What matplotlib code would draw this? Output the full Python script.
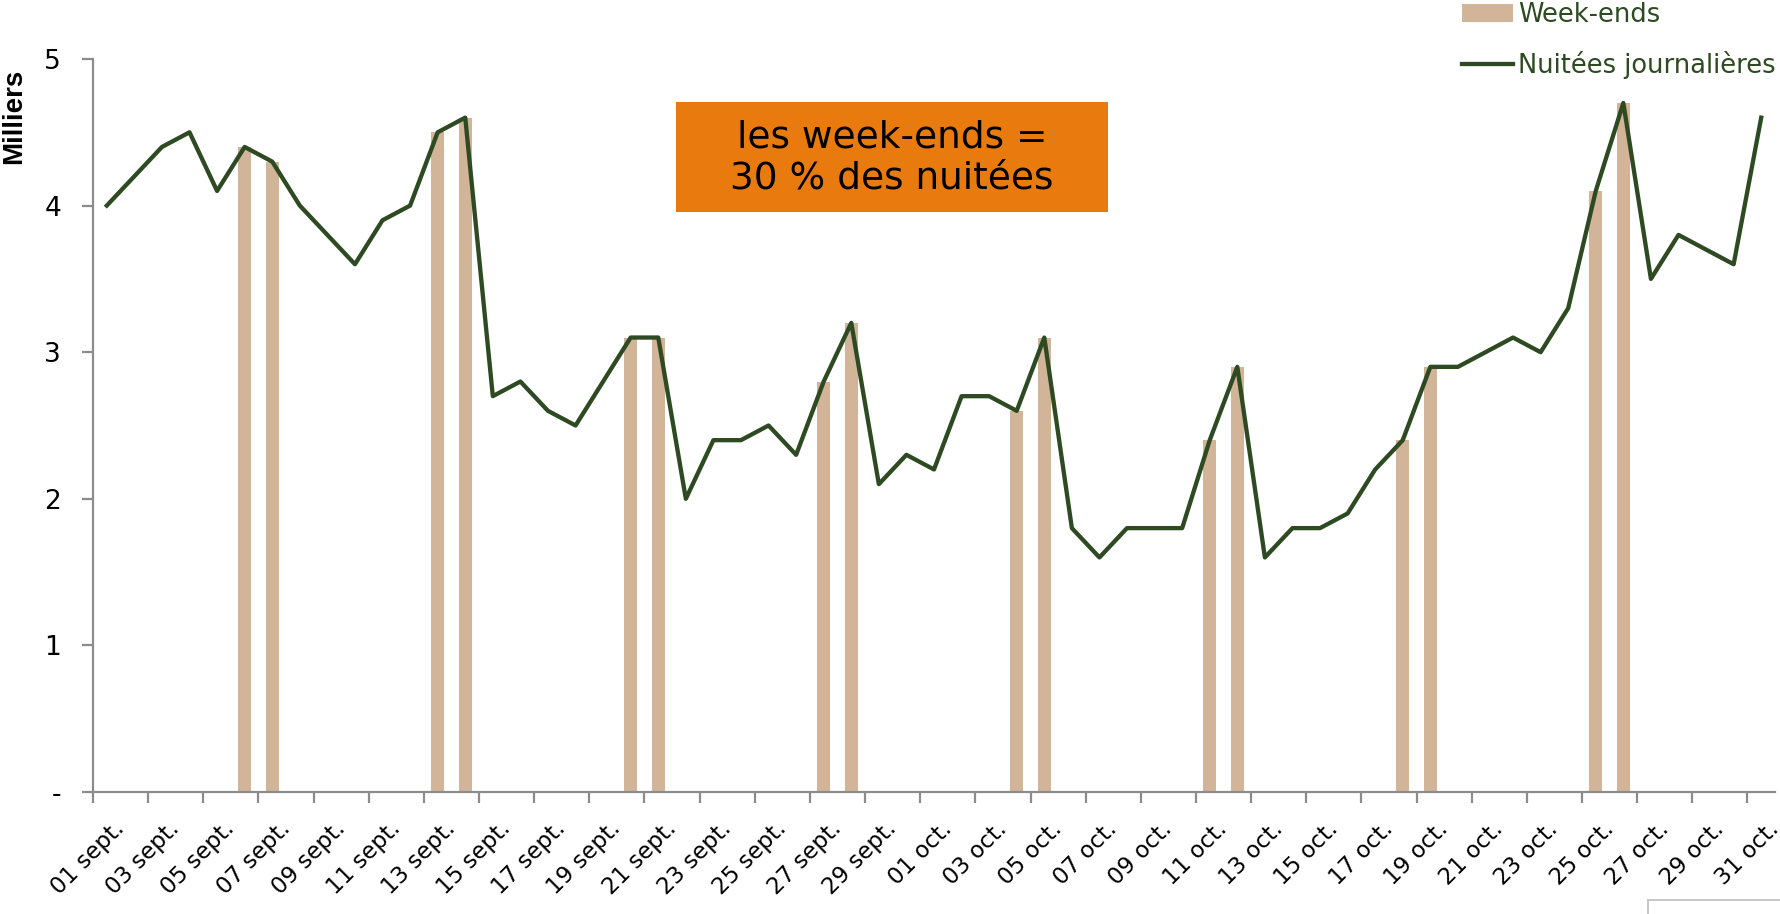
import numpy as np
import pandas as pd
import matplotlib
matplotlib.use('Agg')
import matplotlib.pyplot as plt
from matplotlib.patches import Rectangle
from matplotlib.lines import Line2D
from matplotlib.transforms import ScaledTranslation

plt.rcParams['font.family'] = ['DejaVu Sans']

# nuitées journalières (milliers), du 1er septembre au 31 octobre
jours = pd.date_range('2025-09-01', '2025-10-31', freq='D')
nuitees_sept = [4.0, 4.2, 4.4, 4.5, 4.1, 4.4, 4.3, 4.0, 3.8, 3.6,
                3.9, 4.0, 4.5, 4.6, 2.7, 2.8, 2.6, 2.5, 2.8, 3.1,
                3.1, 2.0, 2.4, 2.4, 2.5, 2.3, 2.8, 3.2, 2.1, 2.3]
nuitees_oct = [2.2, 2.7, 2.7, 2.6, 3.1, 1.8, 1.6, 1.8, 1.8, 1.8,
               2.4, 2.9, 1.6, 1.8, 1.8, 1.9, 2.2, 2.4, 2.9, 2.9,
               3.0, 3.1, 3.0, 3.3, 4.1, 4.7, 3.5, 3.8, 3.7, 3.6, 4.6]
mois_abr = {9: 'sept.', 10: 'oct.'}
y_ticks = [0, 1, 2, 3, 4, 5]
y_labels = ['-', '1', '2', '3', '4', '5']

nuitees = np.array(nuitees_sept + nuitees_oct)
x = np.arange(len(jours))
we = np.asarray(jours.dayofweek >= 5)
x_labels = [f"{d.day:02d} {mois_abr[d.month]}" for d in jours[::2]]

c_bar = '#D2B599'
c_line = '#2E4A23'
c_axe = '#8C8C8C'
W, H = 1780, 914

fig = plt.figure(figsize=(W / 100, H / 100), dpi=100)
ax = fig.add_axes([93 / W, 1 - 792 / H, (1775 - 93) / W, (792 - 59) / H])

barres = ax.bar(x[we], nuitees[we], width=0.47, color=c_bar, label='Week-ends', zorder=2)
ligne, = ax.plot(x, nuitees, color=c_line, lw=3.1, label='Nuitées journalières', zorder=3)

ax.set_xlim(-0.5, len(jours) - 0.5)
ax.set_ylim(0, 5)
ax.set_yticks(y_ticks)
ax.set_yticklabels(y_labels)
ax.set_xticks(x[::2])
ax.set_xticklabels(x_labels, rotation=45, ha='right', va='top', rotation_mode='anchor')
ax.set_xticks(np.arange(-0.5, len(jours) - 1, 2), minor=True)

for s in ['top', 'right']:
    ax.spines[s].set_visible(False)
for s in ['left', 'bottom']:
    ax.spines[s].set_color(c_axe)
    ax.spines[s].set_linewidth(1.6)

ax.tick_params(axis='x', which='major', length=0, pad=18, labelsize=16.5)
ax.tick_params(axis='x', which='minor', length=8, width=1.6, color=c_axe)
ax.tick_params(axis='y', length=8, width=1.6, color=c_axe, pad=15, labelsize=19)

decal = ScaledTranslation(6 / 100, 0, fig.dpi_scale_trans)
for lab in ax.get_xticklabels():
    lab.set_transform(lab.get_transform() + decal)

fig.text(14 / W, 1 - 116 / H, 'Milliers', rotation=90, ha='center', va='center',
         fontsize=20, fontweight='bold', family=['Liberation Sans', 'DejaVu Sans'])

# encadré orange
fig.add_artist(Rectangle((676 / W, 1 - 212 / H), (1108 - 676) / W, (212 - 102) / H,
                         transform=fig.transFigure, facecolor='#E97B0E', edgecolor='none'))
fig.text(892 / W, 1 - 158 / H, 'les week-ends =\n30 % des nuitées', ha='center', va='center',
         fontsize=27, linespacing=1.18, color='black')

leg = ax.legend([barres, ligne], ['Week-ends', 'Nuitées journalières'],
                loc='upper left', bbox_to_anchor=(1462 / W, 1 - 2 / H),
                bbox_transform=fig.transFigure, frameon=False, fontsize=18.5,
                handlelength=1.98, handleheight=0.66, handletextpad=0.2,
                labelspacing=0.9, borderpad=0, borderaxespad=0, labelcolor=c_line)

# petit cadre gris en bas à droite
fig.add_artist(Line2D([1648 / W, 1], [1 - 900 / H, 1 - 900 / H], transform=fig.transFigure,
                      color='#BFBFBF', lw=1.2))
fig.add_artist(Line2D([1648 / W, 1648 / W], [1 - 900 / H, 0], transform=fig.transFigure,
                      color='#BFBFBF', lw=1.2))

fig.savefig('out.png', dpi=100)
